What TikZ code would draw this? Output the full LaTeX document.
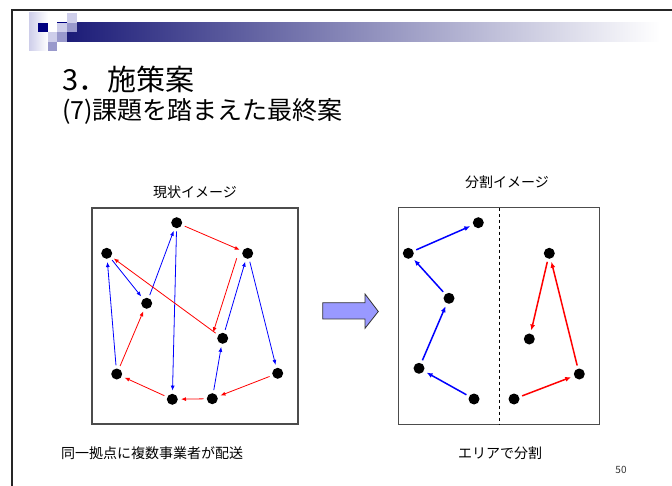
\documentclass[tikz,border=0pt]{standalone}
\usepackage{fontspec}
\setmainfont{Noto Sans CJK JP}
\usetikzlibrary{arrows.meta,calc}
\definecolor{navy}{RGB}{28,28,120}
\definecolor{lav}{RGB}{206,206,234}
\definecolor{midp}{RGB}{153,153,204}
\definecolor{darkn}{RGB}{0,0,128}
\definecolor{arrfill}{RGB}{153,153,255}
\begin{document}
\begin{tikzpicture}[x=1pt,y=-1pt,
  dot/.style={circle,fill=black,inner sep=0pt,minimum size=11pt},
  thinarr/.style={line width=0.8pt,-{Latex[length=5pt,width=4pt]},shorten >=3pt,shorten <=3pt},
  thickarr/.style={line width=1.5pt,-{Latex[length=6pt,width=5pt]},shorten >=3pt,shorten <=3pt},
  boxfr/.style={draw=black!70,line width=1.2pt},
  lbl/.style={font=\fontsize{14}{16}\selectfont,inner sep=0pt}]
\useasboundingbox (0,0) rectangle (672,486);
% frame
\draw[black!85,line width=2pt] (12,486) -- (12,10) -- (672,10);
% header decoration
\shade[left color=navy,right color=white] (67,23) rectangle (660,42);
\shade[left color=lav,right color=white] (29,13) rectangle (48,51);
\fill[darkn] (38,23) rectangle (48,32);
\fill[lav] (48,32) rectangle (57,42);
\fill[midp] (48,42) rectangle (57,51);
\fill[lav] (57,23) rectangle (67,32);
\fill[darkn] (57,22) rectangle (67,23.2);
\fill[midp] (57,32) rectangle (67,42);
\fill[lav] (67,13) rectangle (77,23);
\fill[midp] (67,23) rectangle (77,32);
% titles
\node[anchor=base west,inner sep=0pt,font=\fontsize{29}{31}\selectfont] (t1) at (62,91) {3．施策案};
\node[anchor=base west,inner sep=0pt,font=\fontsize{25}{27}\selectfont] (t2) at (62,120) {(7)課題を踏まえた最終案};
% left box
\node[lbl] (lt) at (195,192) {現状イメージ};
\draw[boxfr] (92,208) rectangle (298,424);
\node[dot] (A) at (176.7,222.7) {};
\node[dot] (B) at (106.7,253.3) {};
\node[dot] (C) at (247.7,253.3) {};
\node[dot] (D) at (146.7,303.3) {};
\node[dot] (E) at (222.7,338.3) {};
\node[dot] (F) at (116.7,374) {};
\node[dot] (G) at (277.7,373.3) {};
\node[dot] (H) at (172.3,399.3) {};
\node[dot] (I) at (212.3,398.7) {};
\draw[thinarr,blue] (B) -- (D);
\draw[thinarr,blue] (D) -- (A);
\draw[thinarr,blue] (A) -- (H);
\draw[thinarr,blue] (F) -- (B);
\draw[thinarr,blue] (I) -- (E);
\draw[thinarr,blue] (E) -- (C);
\draw[thinarr,blue] (C) -- (G);
\draw[thinarr,red] (A) -- (C);
\draw[thinarr,red,shorten >=0pt,shorten <=0pt] ($(C)+(-11,5)$) -- ($(E)+(-9.5,-6)$);
\draw[thinarr,red] (E) -- (B);
\draw[thinarr,red] (F) -- (D);
\draw[thinarr,red] (G) -- (I);
\draw[thinarr,red] (I) -- (H);
\draw[thinarr,red] (H) -- (F);
% big arrow
\draw[fill=arrfill,draw=black!80,line width=0.8pt] (322.7,302.7) -- (365,302.7) -- (365,294) -- (378.3,311.5) -- (365,328.3) -- (365,319) -- (322.7,319) -- cycle;
% right box
\node[lbl] (rt) at (507,182) {分割イメージ};
\draw[boxfr] (398.3,207.7) rectangle (599.3,424.3);
\draw[black,line width=0.9pt,dashed] (499.3,207.7) -- (499.3,424.3);
\node[dot] (a) at (478.3,222.7) {};
\node[dot] (b) at (408.3,253.3) {};
\node[dot] (c) at (449,298.3) {};
\node[dot] (d) at (419,368.3) {};
\node[dot] (e) at (474,399) {};
\node[dot] (f) at (549.3,253.3) {};
\node[dot] (g) at (529.3,339) {};
\node[dot] (h) at (579.3,374) {};
\node[dot] (i) at (514,399) {};
\draw[thickarr,blue] (e) -- (d);
\draw[thickarr,blue] (d) -- (c);
\draw[thickarr,blue] (c) -- (b);
\draw[thickarr,blue] (b) -- (a);
\draw[thickarr,red] (i) -- (h);
\draw[thickarr,red] (h) -- (f);
\draw[thickarr,red] (f) -- (g);
% bottom labels
\node[lbl] (lb) at (152,453) {同一拠点に複数事業者が配送};
\node[lbl] (rb) at (500,453) {エリアで分割};
\node[inner sep=0pt,font=\fontsize{10}{12}\selectfont,text=black!80] (pg) at (621,470) {50};
\end{tikzpicture}
\end{document}
